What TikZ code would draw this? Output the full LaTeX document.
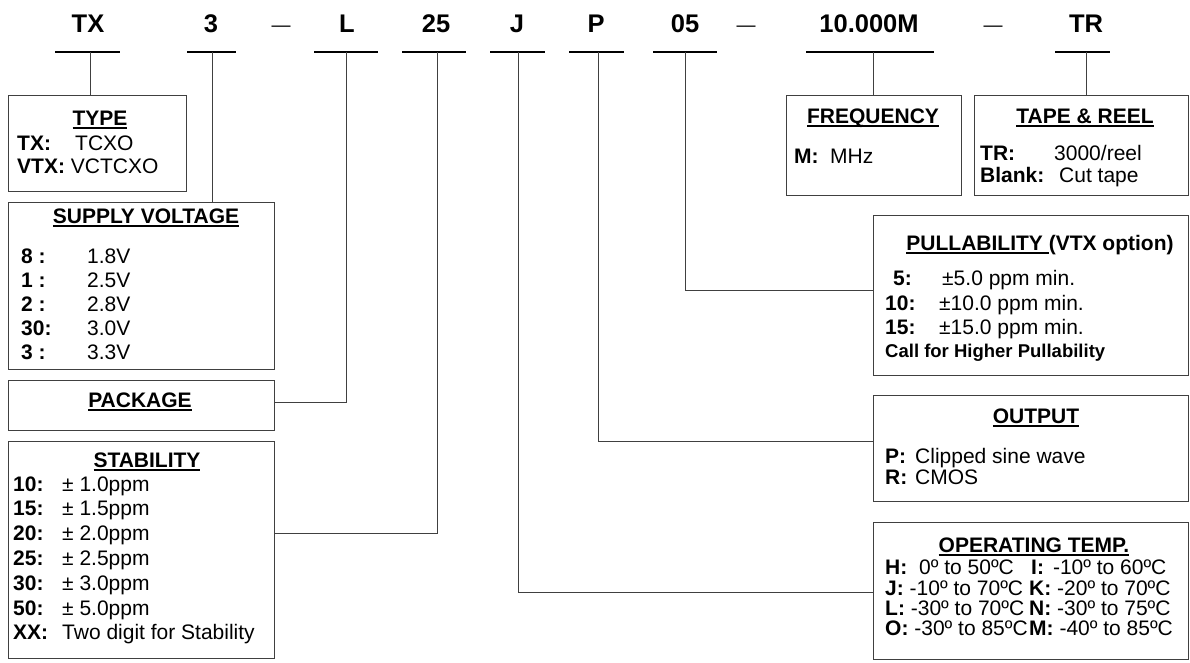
\documentclass[tikz,border=0pt]{standalone}
\usepackage{fontspec}
\setmainfont{Liberation Sans}
\definecolor{linegray}{RGB}{64,64,64}
\newcommand\hul[1]{\setbox0=\hbox{#1}\rlap{\rule[-3.5pt]{\wd0}{1.8pt}}\box0}
\begin{document}
\begin{tikzpicture}[x=1pt,y=-1pt,
  box/.style={draw=linegray, line width=1.2pt, inner sep=0pt, anchor=north west},
  conn/.style={draw=linegray, line width=1pt},
  uline/.style={draw=black, line width=2pt},
  toplbl/.style={font=\fontsize{25.5}{28}\selectfont\bfseries, anchor=base, inner sep=0pt},
  dashlbl/.style={font=\fontsize{19}{22}\selectfont, anchor=base, inner sep=0pt},
  hd/.style={font=\fontsize{21}{24}\selectfont\bfseries, anchor=base, inner sep=0pt},
  tx/.style={font=\fontsize{21}{24}\selectfont, anchor=base west, inner sep=0pt},
  txs/.style={font=\fontsize{18.5}{22}\selectfont\bfseries, anchor=base west, inner sep=0pt},
]
\useasboundingbox (0,0) rectangle (1190,662);

% top code labels
\node[toplbl] (lTX) at (88,32) {TX};
\node[toplbl] (l3) at (211,32) {3};
\node[dashlbl] (d1) at (281,31) {—};
\node[toplbl] (lL) at (347,32) {L};
\node[toplbl] (l25) at (436,32) {25};
\node[toplbl] (lJ) at (517,32) {J};
\node[toplbl] (lP) at (596,32) {P};
\node[toplbl] (l05) at (685,32) {05};
\node[dashlbl] (d2) at (746,31) {—};
\node[toplbl] (lM) at (869,32) {10.000M};
\node[dashlbl] (d3) at (993,31) {—};
\node[toplbl] (lTR) at (1086,32) {TR};

% underlines
\draw[uline] (55,52) -- (120,52);
\draw[uline] (187,52) -- (236,52);
\draw[uline] (314,52) -- (378,52);
\draw[uline] (402,52) -- (466,52);
\draw[uline] (490,52) -- (545,52);
\draw[uline] (569,52) -- (624,52);
\draw[uline] (653,52) -- (717,52);
\draw[uline] (806,52) -- (934,52);
\draw[uline] (1055,52) -- (1110,52);

\coordinate (cTX) at (90,52);
\coordinate (c3) at (212,52);
\coordinate (cL) at (346,52);
\coordinate (c25) at (437,52);
\coordinate (cJ) at (518,52);
\coordinate (cP) at (598,52);
\coordinate (c05) at (685,52);
\coordinate (cM) at (873,52);
\coordinate (cTR) at (1086,52);

% boxes
\node[box, minimum width=178pt, minimum height=96pt] (type) at (8,95) {};
\node[box, minimum width=266pt, minimum height=167pt] (supply) at (8,202) {};
\node[box, minimum width=266pt, minimum height=50pt] (package) at (8,380) {};
\node[box, minimum width=266pt, minimum height=217pt] (stability) at (8,441) {};
\node[box, minimum width=175pt, minimum height=100pt] (freq) at (786,95) {};
\node[box, minimum width=214pt, minimum height=100pt] (tape) at (974,95) {};
\node[box, minimum width=315pt, minimum height=160pt] (pull) at (873,215) {};
\node[box, minimum width=315pt, minimum height=106pt] (output) at (873,395) {};
\node[box, minimum width=315pt, minimum height=137pt] (optemp) at (873,522) {};

% connectors
\draw[conn] (cTX) -- (cTX |- type.north);
\draw[conn] (c3) -- (c3 |- supply.north);
\draw[conn] (cL) |- ([yshift=3pt]package.east);
\draw[conn] (c25) |- ([yshift=16.5pt]stability.east);
\draw[conn] (cJ) |- ([yshift=-1.5pt]optemp.west);
\draw[conn] (cP) |- ([yshift=7pt]output.west);
\draw[conn] (c05) |- ([yshift=5pt]pull.west);
\draw[conn] (cM) -- (cM |- freq.north);
\draw[conn] (cTR) -- (cTR |- tape.north);

% TYPE
\node[hd] (hType) at (100,125) {\hul{TYPE}};
\node[tx] (t1a) at (17,150) {\textbf{TX:}};
\node[tx] (t1b) at (75,150) {TCXO};
\node[tx] (t2) at (17,173) {\textbf{VTX:} VCTCXO};

% SUPPLY VOLTAGE
\node[hd] (hSup) at (146,223) {\hul{SUPPLY VOLTAGE}};
\foreach \k/\v [count=\i from 0] in {8 :/1.8V, 1 :/2.5V, 2 :/2.8V, 30:/3.0V, 3 :/3.3V}{
  \node[tx] (sa\i) at (21,263+24*\i) {\textbf{\k}};
  \node[tx] (sb\i) at (87,263+24*\i) {\v};
}

% PACKAGE
\node[hd] (hPack) at (140,407) {\hul{PACKAGE}};

% STABILITY
\node[hd] (hStab) at (147,467) {\hul{STABILITY}};
\foreach \k/\v [count=\i from 0] in {10:/{± 1.0ppm}, 15:/{± 1.5ppm}, 20:/{± 2.0ppm}, 25:/{± 2.5ppm}, 30:/{± 3.0ppm}, 50:/{± 5.0ppm}, XX:/{Two digit for Stability}}{
  \node[tx] (ka\i) at (13,491+24.8*\i) {\textbf{\k}};
  \node[tx] (kb\i) at (62,491+24.8*\i) {\v};
}

% FREQUENCY
\node[hd] (hFreq) at (873,123) {\hul{FREQUENCY}};
\node[tx] (f1a) at (794,163) {\textbf{M:}};
\node[tx] (f1b) at (830,163) {MHz};

% TAPE & REEL
\node[hd] (hTape) at (1085,123) {\hul{TAPE \& REEL}};
\node[tx] (r1a) at (980,160) {\textbf{TR:}};
\node[tx] (r1b) at (1054,160) {3000/reel};
\node[tx] (r2a) at (980,182) {\textbf{Blank:}};
\node[tx] (r2b) at (1059,182) {Cut tape};

% PULLABILITY
\node[hd] (hPull) at (1040,250) {\hul{PULLABILITY }(VTX option)};
\node[tx] (p1a) at (893,285) {\textbf{5:}};
\node[tx] (p1b) at (942,285) {±5.0 ppm min.};
\node[tx] (p2a) at (885,310) {\textbf{10:}};
\node[tx] (p2b) at (939,310) {±10.0 ppm min.};
\node[tx] (p3a) at (885,334) {\textbf{15:}};
\node[tx] (p3b) at (939,334) {±15.0 ppm min.};
\node[txs] (p4) at (885,357) {Call for Higher Pullability};

% OUTPUT
\node[hd] (hOut) at (1036,423) {\hul{OUTPUT}};
\node[tx] (o1a) at (885,463) {\textbf{P:}};
\node[tx] (o1b) at (915,463) {Clipped sine wave};
\node[tx] (o2a) at (885,484) {\textbf{R:}};
\node[tx] (o2b) at (915,484) {CMOS};

% OPERATING TEMP
\node[hd] (hTemp) at (1034,552) {\hul{OPERATING TEMP.}};
\node[tx] (e1a) at (885,574) {\textbf{H:}};
\node[tx] (e1b) at (919,574) {0º to 50ºC};
\node[tx] (e1c) at (1031,574) {\textbf{I:}\hspace{9pt}-10º to 60ºC};
\node[tx] (e2a) at (885,595) {\textbf{J:} -10º to 70ºC};
\node[tx] (e2c) at (1029,595) {\textbf{K:} -20º to 70ºC};
\node[tx] (e3a) at (885,615) {\textbf{L:} -30º to 70ºC};
\node[tx] (e3c) at (1029,615) {\textbf{N:} -30º to 75ºC};
\node[tx] (e4a) at (885,635) {\textbf{O:} -30º to 85ºC};
\node[tx] (e4c) at (1029,635) {\textbf{M:} -40º to 85ºC};
\end{tikzpicture}
\end{document}
